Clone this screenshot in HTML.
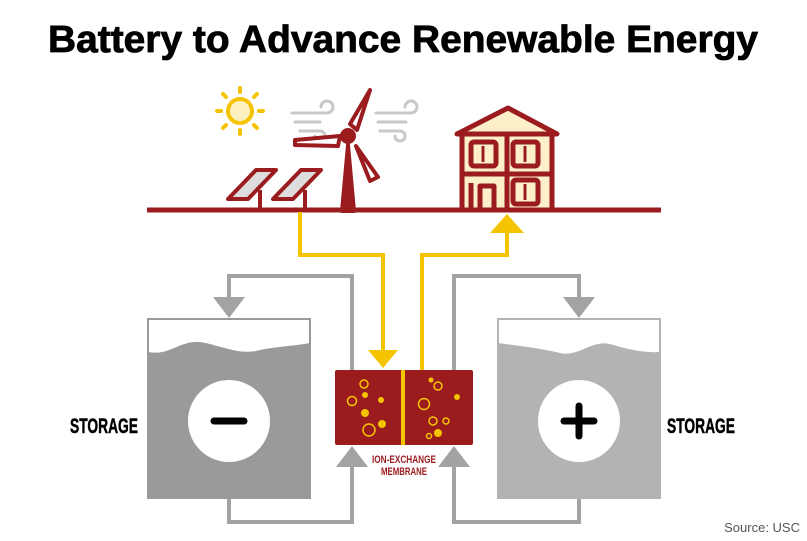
<!DOCTYPE html>
<html><head><style>
body{margin:0;background:#fff;width:807px;height:541px;overflow:hidden}
svg{display:block}
</style></head><body>
<svg width="807" height="541" viewBox="0 0 807 541" xmlns="http://www.w3.org/2000/svg">
<text x="48" y="52" textLength="710" lengthAdjust="spacingAndGlyphs" font-family="Liberation Sans, sans-serif" font-weight="bold" font-size="38" fill="#000" stroke="#000" stroke-width="0.8">Battery to Advance Renewable Energy</text>
<!-- sun -->
<g stroke="#f5c400" stroke-width="4" stroke-linecap="round" fill="none">
<circle cx="240" cy="111" r="12" fill="#fdf0c0"/>
<line x1="240" y1="92" x2="240" y2="88"/><line x1="240" y1="130" x2="240" y2="134"/>
<line x1="221" y1="111" x2="217" y2="111"/><line x1="259" y1="111" x2="263" y2="111"/>
<line x1="226" y1="97" x2="223" y2="94"/><line x1="254" y1="97" x2="257" y2="94"/>
<line x1="226" y1="125" x2="223" y2="128"/><line x1="254" y1="125" x2="257" y2="128"/>
</g>
<!-- wind swirls -->
<g stroke="#c8c8c8" stroke-width="3" fill="none" stroke-linecap="round">
<path d="M292 113 h35 a6 6 0 1 0 -6 -6"/><path d="M295 122 h25"/><path d="M300 131 h20 a5 5 0 1 1 -5 5"/>
<path d="M376 113 h35 a6 6 0 1 0 -6 -6"/><path d="M378 122 h28"/><path d="M380 131 h20 a5 5 0 1 1 -5 5"/>
</g>
<!-- turbine -->
<g fill="#fff" stroke="#9b1c1f" stroke-width="4" stroke-linejoin="round">
<path d="M342 211 L348 145 L354 211 Z" fill="#9b1c1f"/>
<path d="M350 124 L370 90 L357 130 Z"/>
<path d="M340 136 L295 140 L295 145 L338 146 Z"/>
<path d="M356 146 L378 177 L370 181 Z"/>
</g>
<circle cx="348" cy="136" r="8" fill="#9b1c1f"/>
<!-- panels -->
<g stroke="#9b1c1f" stroke-width="4" stroke-linejoin="round">
<line x1="260" y1="190" x2="260" y2="210"/><line x1="305" y1="190" x2="305" y2="210"/>
<path d="M228 199 L256 170 L276 170 L248 199 Z" fill="#ddd"/>
<path d="M273 199 L301 170 L321 170 L293 199 Z" fill="#ddd"/>
</g>
<!-- house -->
<g stroke="#9b1c1f" stroke-width="5" stroke-linejoin="round" fill="#fdf0c8">
<path d="M457 134 L508 108 L557 134 Z"/>
<rect x="462" y="134" width="90" height="76"/>
<line x1="507" y1="134" x2="507" y2="210"/>
<line x1="462" y1="174" x2="552" y2="174"/>
<rect x="471" y="142" width="25" height="24" rx="3"/><rect x="513" y="142" width="25" height="24" rx="3"/>
<rect x="513" y="180" width="25" height="24" rx="3"/>
<path d="M480 210 V186 h14 V210" fill="none"/>
<line x1="471" y1="183" x2="471" y2="208"/>
</g>
<g stroke="#9b1c1f" stroke-width="3"><line x1="483" y1="146" x2="483" y2="162"/><line x1="525" y1="146" x2="525" y2="162"/><line x1="525" y1="184" x2="525" y2="200"/></g>
<line x1="147" y1="210" x2="661" y2="210" stroke="#9b1c1f" stroke-width="5"/>
<!-- yellow -->
<g stroke="#f5c400" stroke-width="4" fill="none">
<path d="M300 212 V255 H383 V352"/>
<path d="M422 370 V255 H507 V232"/>
</g>
<polygon points="368,350 398,350 383,368" fill="#f5c400"/>
<polygon points="490,233 524,233 507,214" fill="#f5c400"/>
<!-- gray loops -->
<g stroke="#a3a3a3" stroke-width="4" fill="none">
<path d="M229 300 V276 H352 V370"/>
<path d="M229 498 V522 H352 V455"/>
<path d="M579 300 V276 H454 V370"/>
<path d="M579 498 V522 H454 V455"/>
</g>
<g fill="#a3a3a3">
<polygon points="213,297 245,297 229,318"/><polygon points="563,297 595,297 579,318"/>
<polygon points="336,467 368,467 352,446"/><polygon points="438,467 470,467 454,446"/>
</g>
<!-- tanks -->
<rect x="148" y="319" width="162" height="179" fill="#fff" stroke="#9a9a9a" stroke-width="2"/>
<path d="M148 352 C170 356 180 340 200 342 C220 345 240 356 260 350 C280 346 295 346 310 343 V498 H148 Z" fill="#9a9a9a"/>
<circle cx="229" cy="421" r="41" fill="#fff"/>
<line x1="214" y1="421" x2="244" y2="421" stroke="#000" stroke-width="7" stroke-linecap="round"/>
<rect x="498" y="319" width="162" height="179" fill="#fff" stroke="#b3b3b3" stroke-width="2"/>
<path d="M498 343 C520 346 540 348 560 353 C580 357 590 340 610 344 C630 350 645 353 660 352 V498 H498 Z" fill="#b3b3b3"/>
<circle cx="579" cy="421" r="41" fill="#fff"/>
<g stroke="#000" stroke-width="7" stroke-linecap="round"><line x1="564" y1="421" x2="594" y2="421"/><line x1="579" y1="406" x2="579" y2="436"/></g>
<!-- membrane -->
<rect x="335" y="370" width="138" height="75" rx="2" fill="#9b1c1f"/>
<line x1="403" y1="370" x2="403" y2="445" stroke="#f5c400" stroke-width="4"/>
<g fill="none" stroke="#f5c400" stroke-width="1.5">
<circle cx="364" cy="384" r="4"/><circle cx="352" cy="401" r="4.5"/><circle cx="369" cy="430" r="6"/>
<circle cx="438" cy="386" r="4"/><circle cx="424" cy="404" r="5.5"/><circle cx="433" cy="421" r="4"/><circle cx="446" cy="421" r="3"/><circle cx="429" cy="436" r="2.5"/>
</g>
<g fill="#f5c400">
<circle cx="365" cy="395" r="3"/><circle cx="381" cy="400" r="3"/><circle cx="365" cy="413" r="4"/><circle cx="382" cy="424" r="4"/>
<circle cx="431" cy="380" r="2.5"/><circle cx="457" cy="397" r="3"/><circle cx="438" cy="433" r="4"/>
</g>
<g font-family="Liberation Sans, sans-serif" font-weight="bold" font-size="11" fill="#9b1c1f">
<text x="372" y="463" textLength="64" lengthAdjust="spacingAndGlyphs">ION-EXCHANGE</text><text x="381" y="475" textLength="46" lengthAdjust="spacingAndGlyphs">MEMBRANE</text>
</g>
<g font-family="Liberation Sans, sans-serif" font-weight="bold" font-size="21" fill="#000" stroke="#000" stroke-width="0.5">
<text x="70" y="433" textLength="68" lengthAdjust="spacingAndGlyphs">STORAGE</text>
<text x="667" y="433" textLength="68" lengthAdjust="spacingAndGlyphs">STORAGE</text>
</g>
<text x="800" y="532" text-anchor="end" font-family="Liberation Sans, sans-serif" font-size="13" fill="#555">Source: USC</text>
</svg>
</body></html>
